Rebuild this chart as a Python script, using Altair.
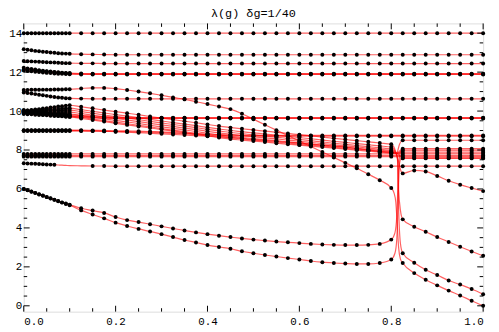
import altair as alt
import pandas as pd

# sample grid of g (dense 1/120 up to 0.1, then 1/40)
G = [0.0, 0.0083, 0.0167, 0.025, 0.0333, 0.0417, 0.05, 0.0583, 0.0667, 0.075, 0.0833, 0.0917, 0.1,
     0.125, 0.15, 0.175, 0.2, 0.225, 0.25, 0.275, 0.3, 0.325, 0.35, 0.375, 0.4, 0.425, 0.45,
     0.475, 0.5, 0.525, 0.55, 0.575, 0.6, 0.625, 0.65, 0.675, 0.7, 0.725, 0.75, 0.775, 0.8,
     0.825, 0.85, 0.875, 0.9, 0.925, 0.95, 0.975, 1.0]

lev_14 = [14.0] * 49
lev_13 = [13.18, 13.15, 13.12, 13.09, 13.07, 13.05, 13.03, 13.01, 12.99, 12.97, 12.96, 12.95, 12.94,
          12.92, 12.91, 12.9] + [12.89] * 33
lev_125 = [12.57, 12.56, 12.55, 12.54, 12.53, 12.52, 12.51, 12.5, 12.49, 12.48, 12.47, 12.46, 12.46,
           12.45, 12.45, 12.44] + [12.44] * 33
lev_12a = [12.22, 12.19, 12.16, 12.13, 12.1, 12.07, 12.05, 12.03, 12.01, 11.99, 11.97, 11.96, 11.95,
           11.93, 11.92, 11.92] + [11.92] * 33
lev_12b = [12.15, 12.13, 12.11, 12.09, 12.07, 12.05, 12.03, 12.01, 11.99, 11.97, 11.95, 11.94, 11.93,
           11.91, 11.9, 11.9] + [11.9] * 33
lev_12c = [12.08, 12.06, 12.04, 12.02, 12.0, 11.98, 11.96, 11.95, 11.93, 11.92, 11.91, 11.9, 11.89,
           11.88, 11.88, 11.88] + [11.88] * 33
lev_106 = [10.95, 10.93, 10.9, 10.87, 10.84, 10.81, 10.78, 10.75, 10.72, 10.7, 10.68, 10.66, 10.65,
           10.64] + [10.63] * 35
curve_a = [11.08, 11.08, 11.09, 11.09, 11.09, 11.1, 11.1, 11.1, 11.11, 11.11, 11.11, 11.12, 11.12,
           11.16, 11.19, 11.19, 11.15, 11.08, 11.0, 10.91, 10.81, 10.7, 10.6, 10.48, 10.36, 10.23, 10.1,
           9.86, 9.58, 9.3, 9.02, 8.74, 8.46, 8.18, 7.9, 7.62, 7.34, 7.06, 6.76, 6.45, 6.05,
           2.2, 1.68, 1.34, 1.05, 0.78, 0.53, 0.26, 0.0]
band96a = [10.05, 10.03, 10.01, 9.99, 9.97, 9.95, 9.93, 9.91, 9.89, 9.87, 9.85, 9.83, 9.81,
           9.77, 9.74, 9.71, 9.69, 9.67, 9.66] + [9.66] * 30
band96b = [10.0, 9.98, 9.96, 9.94, 9.92, 9.9, 9.88, 9.86, 9.84, 9.82, 9.8, 9.78, 9.76,
           9.72, 9.69, 9.67, 9.65, 9.64, 9.64] + [9.64] * 30
band96c = [9.95, 9.93, 9.91, 9.89, 9.87, 9.85, 9.83, 9.81, 9.79, 9.77, 9.75, 9.73, 9.71,
           9.68, 9.65, 9.63, 9.62, 9.62, 9.62] + [9.62] * 30
fan1 = [10.0, 10.03, 10.05, 10.08, 10.1, 10.13, 10.15, 10.18, 10.2, 10.23, 10.25, 10.28, 10.3,
        10.22, 10.14, 10.05, 9.97, 9.89, 9.81, 9.72, 9.64, 9.56, 9.48, 9.4, 9.31, 9.23, 9.15,
        9.09, 9.03, 8.97, 8.91, 8.85, 8.79, 8.73, 8.66, 8.6, 8.54, 8.48, 8.42, 8.36, 8.3,
        4.44, 4.06, 3.8, 3.53, 3.28, 3.03, 2.79, 2.57]
fan2 = [10.0, 10.01, 10.03, 10.04, 10.05, 10.06, 10.08, 10.09, 10.1, 10.11, 10.13, 10.14, 10.15,
        10.07, 9.99, 9.9, 9.82, 9.74, 9.66, 9.57, 9.49, 9.41, 9.33, 9.25, 9.16, 9.08, 9.0,
        8.94, 8.88, 8.82, 8.76, 8.7, 8.64, 8.58, 8.51, 8.45, 8.39, 8.33, 8.27, 8.21, 8.15,
        2.7, 2.21, 1.85, 1.58, 1.3, 1.09, 0.86, 0.59]
fan3 = [10.0, 10.0, 10.01, 10.01, 10.02, 10.02, 10.03, 10.03, 10.03, 10.04, 10.04, 10.05, 10.05,
        9.97, 9.89, 9.8, 9.72, 9.64, 9.56, 9.47, 9.39, 9.31, 9.23, 9.15, 9.06, 8.98, 8.9,
        8.84, 8.78, 8.72, 8.66, 8.6, 8.54, 8.48, 8.41, 8.35, 8.29, 8.23, 8.17, 8.11, 8.05,
        6.8, 6.95, 6.9, 6.67, 6.42, 6.22, 6.05, 5.89]
fan4 = [9.95] * 13 + [9.87, 9.79, 9.7, 9.62, 9.54, 9.46, 9.37, 9.29, 9.21, 9.13, 9.05, 8.96, 8.88, 8.8,
                      8.74, 8.68, 8.62, 8.57, 8.51, 8.45, 8.39, 8.33, 8.27, 8.21, 8.16, 8.1, 8.04, 7.98] + [8.5] * 8
fan5 = [9.9, 9.9, 9.89, 9.89, 9.88, 9.88, 9.88, 9.87, 9.87, 9.86, 9.86, 9.85, 9.85,
        9.77, 9.69, 9.6, 9.52, 9.44, 9.36, 9.27, 9.19, 9.11, 9.03, 8.95, 8.86, 8.78, 8.7,
        8.64, 8.59, 8.53, 8.48, 8.42, 8.37, 8.31, 8.25, 8.2, 8.14, 8.09, 8.03, 7.98, 7.92] + [8.07] * 8
fan6 = [9.9, 9.89, 9.88, 9.86, 9.85, 9.84, 9.83, 9.81, 9.8, 9.79, 9.78, 9.76, 9.75,
        9.67, 9.59, 9.51, 9.43, 9.35, 9.27, 9.19, 9.1, 9.02, 8.94, 8.86, 8.78, 8.7, 8.62,
        8.57, 8.51, 8.46, 8.41, 8.36, 8.3, 8.25, 8.2, 8.14, 8.09, 8.04, 7.99, 7.93, 7.88] + [7.95] * 8
fan7 = [9.85, 9.84, 9.83, 9.81, 9.8, 9.79, 9.78, 9.76, 9.75, 9.74, 9.73, 9.71, 9.7,
        9.62, 9.54, 9.46, 9.37, 9.29, 9.21, 9.13, 9.05, 8.97, 8.89, 8.8, 8.72, 8.64, 8.56,
        8.51, 8.46, 8.41, 8.35, 8.3, 8.25, 8.2, 8.15, 8.1, 8.05, 7.99, 7.94, 7.89, 7.84] + [7.57] * 8
band87a = [9.02] * 13 + [9.02, 9.01, 9.0, 8.99, 8.98, 8.97, 8.95, 8.93,
                         8.9, 8.87, 8.84, 8.81, 8.79, 8.77, 8.76, 8.75, 8.75, 8.75] + [8.75] * 18
band87b = [8.98] * 13 + [8.98, 8.97, 8.96, 8.95, 8.94, 8.93, 8.91, 8.89,
                         8.86, 8.83, 8.8, 8.77, 8.75, 8.73, 8.72, 8.71, 8.71, 8.71] + [8.71] * 18
band9c = [9.0] * 13 + [8.99, 8.98, 8.96, 8.94, 8.92, 8.89, 8.86, 8.83, 8.8, 8.77, 8.74, 8.71, 8.68, 8.65,
                       8.6, 8.55, 8.5, 8.45, 8.4, 8.35, 8.3, 8.25, 8.2, 8.15, 8.08, 8.0, 7.93, 7.86] + [7.86] * 8
lev78a = [7.8] * 49
lev78b = [7.72] * 49
lev78c = [7.66] * 49
lev72 = [7.32, 7.31, 7.3, 7.29, 7.28, 7.27, 7.26, 7.25, 7.24, 7.23, 7.22, 7.21, 7.2,
         7.19, 7.18, 7.18] + [7.17] * 33
low1 = [6.0, 5.94, 5.87, 5.8, 5.73, 5.66, 5.59, 5.52, 5.45, 5.38, 5.31, 5.25, 5.19,
        5.01, 4.89, 4.77, 4.56, 4.4, 4.3, 4.19, 4.08, 3.97, 3.87, 3.77, 3.68, 3.6, 3.53,
        3.46, 3.4, 3.35, 3.3, 3.26, 3.22, 3.18, 3.15, 3.13, 3.12, 3.12, 3.13, 3.18, 3.4] + [8.0] * 8
low2 = [6.0, 5.93, 5.86, 5.79, 5.72, 5.65, 5.58, 5.51, 5.44, 5.37, 5.3, 5.23, 5.16,
        4.9, 4.69, 4.49, 4.27, 4.1, 3.95, 3.82, 3.68, 3.53, 3.38, 3.25, 3.12, 3.02, 2.93,
        2.8, 2.7, 2.61, 2.53, 2.45, 2.38, 2.3, 2.24, 2.2, 2.17, 2.15, 2.15, 2.2, 2.38] + [7.6] * 8

# extra line-only knots around the critical coupling g ~ 0.815
crit_low1 = [(0.808, 3.75), (0.812, 4.6), (0.815, 6.5), (0.818, 7.7), (0.821, 7.95)]
crit_low2 = [(0.808, 2.7), (0.812, 3.4), (0.815, 5.5), (0.818, 7.3), (0.821, 7.55)]
crit_a = [(0.806, 5.8), (0.81, 5.3), (0.813, 4.2), (0.816, 3.0), (0.82, 2.4)]
crit_fan1 = [(0.81, 7.9), (0.8135, 7.6), (0.816, 6.0), (0.82, 4.9)]
crit_fan2 = [(0.81, 7.85), (0.8135, 7.5), (0.816, 5.0), (0.82, 3.2)]
crit_fan3 = [(0.81, 7.85), (0.815, 7.5), (0.82, 7.0)]
crit_fan4 = [(0.812, 7.85), (0.818, 8.3)]
crit_fan5 = [(0.812, 7.84)]
crit_fan6 = [(0.812, 7.83)]
crit_fan7 = [(0.812, 7.82)]
crit_band9c = [(0.812, 7.83)]

# g values where the 7.2 level has no dots
gap_lev72 = [0.075, 0.0833, 0.0917, 0.1, 0.125]

x_major = [0.0, 0.2, 0.4, 0.6, 0.8, 1.0]
x_minor = [0.05, 0.1, 0.15, 0.25, 0.3, 0.35, 0.45, 0.5, 0.55, 0.65, 0.7, 0.75, 0.85, 0.9, 0.95]
y_major = [0, 2, 4, 6, 8, 10, 12, 14]
y_minor = [0.5, 1, 1.5, 2.5, 3, 3.5, 4.5, 5, 5.5, 6.5, 7, 7.5, 8.5, 9, 9.5, 10.5, 11, 11.5,
           12.5, 13, 13.5]

curves = {
    "lev_14": (lev_14, []), "lev_13": (lev_13, []), "lev_125": (lev_125, []),
    "lev_12a": (lev_12a, []), "lev_12b": (lev_12b, []), "lev_12c": (lev_12c, []),
    "lev_106": (lev_106, []), "curve_a": (curve_a, crit_a),
    "band96a": (band96a, []), "band96b": (band96b, []), "band96c": (band96c, []),
    "fan1": (fan1, crit_fan1), "fan2": (fan2, crit_fan2), "fan3": (fan3, crit_fan3),
    "fan4": (fan4, crit_fan4), "fan5": (fan5, crit_fan5), "fan6": (fan6, crit_fan6),
    "fan7": (fan7, crit_fan7), "band87a": (band87a, []), "band87b": (band87b, []),
    "band9c": (band9c, crit_band9c), "lev78a": (lev78a, []), "lev78b": (lev78b, []),
    "lev78c": (lev78c, []), "lev72": (lev72, []), "low1": (low1, crit_low1),
    "low2": (low2, crit_low2),
}

rows = []
for name, (vals, extra) in curves.items():
    for g, v in zip(G, vals):
        dot = not (name == "lev72" and g in gap_lev72)
        rows.append({"curve": name, "g": g, "v": v, "dot": dot})
    for g, v in extra:
        rows.append({"curve": name, "g": g, "v": v, "dot": False})
df = pd.DataFrame(rows)
dots = df[df["dot"]]

W, H = 467, 293
FONT = "Liberation Mono"
xscale = alt.Scale(domain=[0, 1], nice=False, zero=False)
yscale = alt.Scale(domain=[-0.3, 14.5], nice=False, zero=False)
xaxis = alt.Axis(values=x_major, format=".1f", ticks=False, domain=False, grid=False,
                 labelFont=FONT, labelFontSize=11, labelColor="black", labelPadding=4, title=None)
yaxis = alt.Axis(values=y_major, format="d", ticks=False, domain=False, grid=False,
                 labelFont=FONT, labelFontSize=11, labelColor="black", labelPadding=2, title=None)

lines = alt.Chart(df).mark_line(color="#ff0000", opacity=0.62, strokeWidth=1.2,
                                interpolate="monotone").encode(
    x=alt.X("g:Q", scale=xscale, axis=xaxis),
    y=alt.Y("v:Q", scale=yscale, axis=yaxis),
    detail="curve:N",
    order="g:Q",
)
points = alt.Chart(dots).mark_circle(color="black", size=16, opacity=1).encode(
    x=alt.X("g:Q", scale=xscale, axis=xaxis),
    y=alt.Y("v:Q", scale=yscale, axis=yaxis),
)

def xticks(vals, ln):
    d = pd.DataFrame({"t": vals})
    b = alt.Chart(d).mark_rule(color="black", strokeWidth=1).encode(
        x=alt.X("t:Q", scale=xscale, axis=xaxis), y=alt.value(H), y2=alt.value(H - ln))
    t = alt.Chart(d).mark_rule(color="black", strokeWidth=1).encode(
        x=alt.X("t:Q", scale=xscale, axis=xaxis), y=alt.value(0), y2=alt.value(ln))
    return [b, t]

def yticks(vals, ln):
    d = pd.DataFrame({"t": vals})
    l = alt.Chart(d).mark_rule(color="black", strokeWidth=1).encode(
        y=alt.Y("t:Q", scale=yscale, axis=yaxis), x=alt.value(0), x2=alt.value(ln))
    r = alt.Chart(d).mark_rule(color="black", strokeWidth=1).encode(
        y=alt.Y("t:Q", scale=yscale, axis=yaxis), x=alt.value(W), x2=alt.value(W - ln))
    return [l, r]

layers = [lines, points] + xticks(x_major, 6) + xticks(x_minor, 3.5) + yticks(y_major, 6) + yticks(y_minor, 3.5)

chart = alt.layer(*layers).properties(
    width=W, height=H,
    title=alt.TitleParams("λ(g)  δg=1/40", font=FONT, fontSize=12, fontWeight="normal",
                          color="black", anchor="middle", offset=3),
    autosize=alt.AutoSizeParams(type="none"),
    padding={"left": 16, "top": 13, "right": 8, "bottom": 18},
).configure_view(stroke="black", strokeWidth=1).configure(background="white")

chart.save("out.html", embed_options={"renderer": "svg", "actions": False})
